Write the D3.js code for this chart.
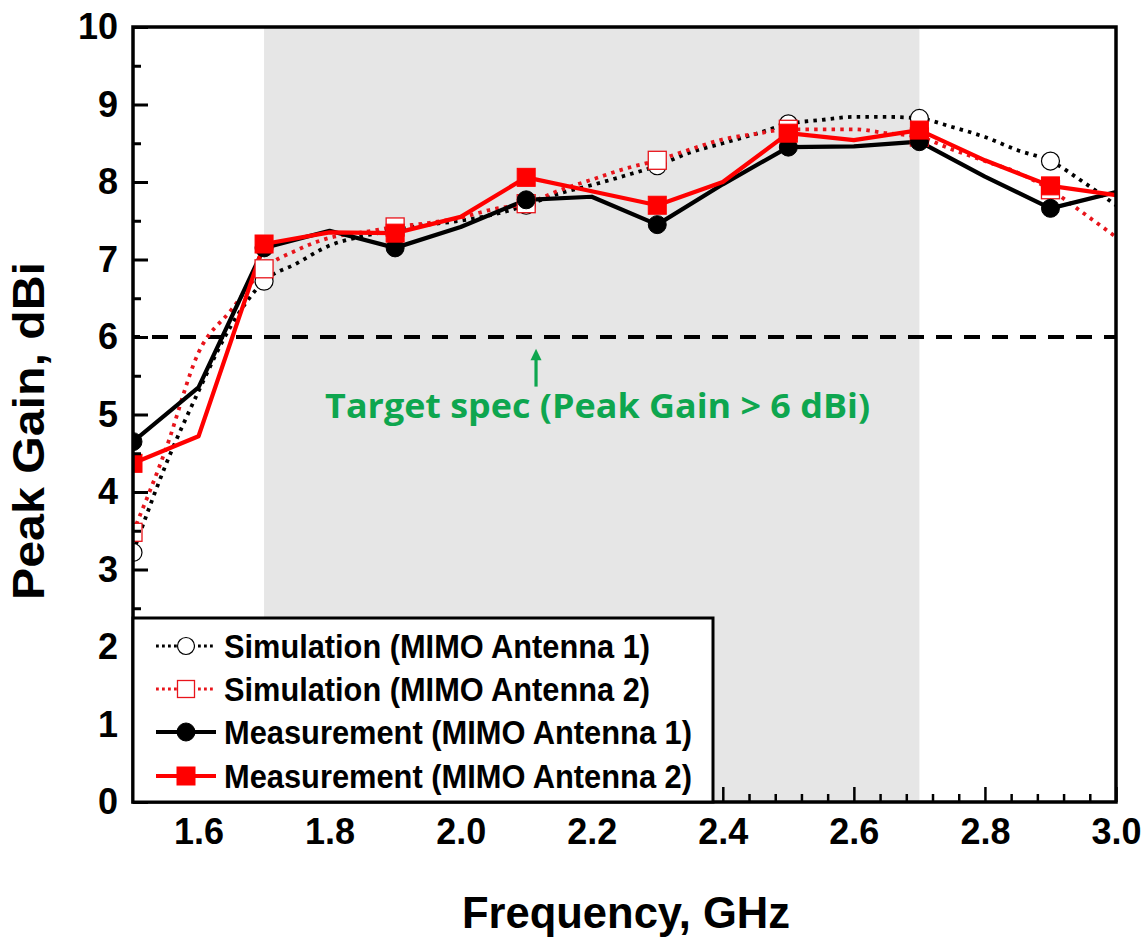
<!DOCTYPE html>
<html><head><meta charset="utf-8">
<script src="https://cdn.jsdelivr.net/npm/d3@7"></script>
<style>
body{margin:0;background:#fff}
svg{display:block}
text{font-family:"Liberation Sans",Arial,sans-serif;font-weight:bold;fill:#000}
</style>
</head><body>
<svg id="chart" width="1147" height="943"></svg>
<script>
// ---------- data ----------
const freqMeas = [1.5,1.6,1.7,1.8,1.9,2.0,2.1,2.2,2.3,2.4,2.5,2.6,2.7,2.8,2.9,3.0];
const measAnt1 = [4.65,5.35,7.15,7.37,7.15,7.42,7.77,7.81,7.45,7.97,8.45,8.46,8.52,8.07,7.66,7.87];
const measAnt2 = [4.37,4.72,7.20,7.35,7.34,7.55,8.06,7.88,7.70,8.00,8.63,8.54,8.67,8.28,7.95,7.83];

const freqSim = [1.5,1.55,1.6,1.65,1.7,1.75,1.8,1.85,1.9,1.95,2.0,2.05,2.1,2.15,2.2,2.25,2.3,2.35,2.4,2.45,2.5,2.55,2.6,2.65,2.7,2.75,2.8,2.85,2.9,2.95,3.0];
const simAnt1 = [3.22,4.35,5.30,6.15,6.72,6.95,7.18,7.30,7.38,7.45,7.50,7.58,7.70,7.85,7.96,8.08,8.21,8.38,8.50,8.62,8.75,8.80,8.84,8.84,8.82,8.71,8.58,8.41,8.27,8.00,7.70];
const simAnt2 = [3.48,4.55,5.80,6.35,6.88,7.12,7.28,7.35,7.42,7.47,7.54,7.65,7.72,7.89,8.03,8.17,8.28,8.42,8.55,8.62,8.68,8.68,8.68,8.63,8.58,8.42,8.27,8.12,7.90,7.60,7.29];

const markerFreqs = [1.5,1.7,1.9,2.1,2.3,2.5,2.7,2.9];
const xTickLabels = ["1.6","1.8","2.0","2.2","2.4","2.6","2.8","3.0"];
const yTickLabels = ["0","1","2","3","4","5","6","7","8","9","10"];
const bandRange = [1.7, 2.7];
const targetGain = 6;
const legendLabels = ["Simulation (MIMO Antenna 1)","Simulation (MIMO Antenna 2)","Measurement (MIMO Antenna 1)","Measurement (MIMO Antenna 2)"];

// ---------- layout ----------
const L=133, R=1116, T=27, B=802;
const svg = d3.select("#chart");
const x = d3.scaleLinear().domain([1.5,3.0]).range([L,R]);
const y = d3.scaleLinear().domain([0,10]).range([B,T]);

// shaded band
svg.append("rect")
  .attr("x", x(bandRange[0])).attr("y", T)
  .attr("width", x(bandRange[1]) - x(bandRange[0])).attr("height", B - T)
  .attr("fill", "#e6e6e6");

// target dashed line
svg.append("line")
  .attr("x1", x(1.5)).attr("x2", x(3.0))
  .attr("y1", y(targetGain)).attr("y2", y(targetGain))
  .attr("stroke", "#000").attr("stroke-width", 3.8)
  .attr("stroke-dasharray", "16,12").attr("stroke-dashoffset", 9);

// arrow + annotation
const green = "#0ea64f";
const ax = x(2.115);
svg.append("line").attr("x1", ax).attr("x2", ax)
  .attr("y1", y(5.36)).attr("y2", y(5.72))
  .attr("stroke", green).attr("stroke-width", 3.2);
svg.append("path")
  .attr("d", `M${ax},${y(5.85)} L${ax-5.5},${y(5.70)} L${ax+5.5},${y(5.70)} Z`)
  .attr("fill", green);
svg.append("text")
  .attr("x", x(2.209)).attr("y", y(4.95))
  .attr("text-anchor", "middle")
  .attr("textLength", 545).attr("lengthAdjust", "spacingAndGlyphs")
  .style("font-family", "'Open Sans','Noto Sans',sans-serif")
  .style("font-size", "34px").style("fill", green)
  .text("Target spec (Peak Gain > 6 dBi)");

// ---------- series ----------
svg.append("clipPath").attr("id","plotclip")
  .append("rect").attr("x",L).attr("y",T).attr("width",R-L).attr("height",B-T);

const lineGen = d3.line().x(d=>x(d[0])).y(d=>y(d[1]));
const smoothGen = d3.line().x(d=>x(d[0])).y(d=>y(d[1])).curve(d3.curveMonotoneX);

const series = [
  {freq: freqSim, vals: simAnt1, color:"#000", dotted:true, shape:"circle", filled:false},
  {freq: freqSim, vals: simAnt2, color:"#e8141b", dotted:true, shape:"square", filled:false},
  {freq: freqMeas, vals: measAnt1, color:"#000", dotted:false, shape:"circle", filled:true},
  {freq: freqMeas, vals: measAnt2, color:"#ff0000", dotted:false, shape:"square", filled:true}
];

const isMarker = f => markerFreqs.some(m => Math.abs(m - f) < 1e-9);

function drawMarker(g, shape, filled, color, cx, cy, size) {
  if (shape === "circle") {
    g.append("circle").attr("cx", cx).attr("cy", cy).attr("r", size/2)
      .attr("fill", filled ? color : "#fff")
      .attr("stroke", filled ? color : "#000").attr("stroke-width", filled ? 1 : 1.2);
  } else {
    g.append("rect").attr("x", cx - size/2).attr("y", cy - size/2)
      .attr("width", size).attr("height", size)
      .attr("fill", filled ? color : "#fff")
      .attr("stroke", color).attr("stroke-width", filled ? 1 : 1.3);
  }
}

const plotG = svg.append("g").attr("clip-path", "url(#plotclip)");
series.forEach(s => {
  const pts = s.freq.map((f,i)=>[f, s.vals[i]]);
  const p = plotG.append("path").datum(pts)
    .attr("fill","none").attr("stroke", s.color)
    .attr("d", s.dotted ? smoothGen : lineGen);
  if (s.dotted) {
    p.attr("stroke-width", 3.8).attr("stroke-dasharray", "3.5,5.2");
  } else {
    p.attr("stroke-width", 4.2).attr("stroke-linejoin","round");
  }
});
const markG = svg.append("g").attr("clip-path", "url(#plotclip)");
series.forEach(s => {
  s.freq.forEach((f,i) => {
    if (isMarker(f)) drawMarker(markG, s.shape, s.filled, s.color, x(f), y(s.vals[i]), 18);
  });
});

// ---------- axes ----------
const yMinor = [];
for (let i=0;i<yTickLabels.length-1;i++) yMinor.push(+yTickLabels[i] + 0.5);
const xMajor = xTickLabels.map(Number);
const xMinor = [1.52,1.56,1.64,1.68,1.72,1.76,1.84,1.88,1.92,1.96,2.04,2.08,2.12,2.16,2.24,2.28,2.32,2.36,2.44,2.48,2.52,2.56,2.64,2.68,2.72,2.76,2.84,2.88,2.92,2.96];

const axG = svg.append("g");
// y major
axG.append("g").attr("transform", `translate(${L},0)`)
  .call(d3.axisLeft(y).tickValues(yTickLabels.map(Number)).tickSize(-15).tickPadding(15).tickFormat((d,i)=>yTickLabels[i]))
  .call(g=>g.select(".domain").remove())
  .call(g=>g.selectAll("line").attr("stroke","#000").attr("stroke-width",3))
  .call(g=>g.selectAll("text").attr("fill","#000").style("font-size","36px").style("font-family","'Liberation Sans',Arial,sans-serif").style("font-weight","bold"));
// y minor
axG.append("g").attr("transform", `translate(${L},0)`)
  .call(d3.axisLeft(y).tickValues(yMinor).tickSize(-8).tickFormat(""))
  .call(g=>g.select(".domain").remove())
  .call(g=>g.selectAll("line").attr("stroke","#000").attr("stroke-width",3));
// x major
axG.append("g").attr("transform", `translate(0,${B})`)
  .call(d3.axisBottom(x).tickValues(xMajor).tickSize(-15).tickPadding(16).tickFormat((d,i)=>xTickLabels[i]))
  .call(g=>g.select(".domain").remove())
  .call(g=>g.selectAll("line").attr("stroke","#000").attr("stroke-width",2.5))
  .call(g=>g.selectAll("text").attr("fill","#000").style("font-size","36px").style("font-family","'Liberation Sans',Arial,sans-serif").style("font-weight","bold"));
// x minor
axG.append("g").attr("transform", `translate(0,${B})`)
  .call(d3.axisBottom(x).tickValues(xMinor).tickSize(-8).tickFormat(""))
  .call(g=>g.select(".domain").remove())
  .call(g=>g.selectAll("line").attr("stroke","#000").attr("stroke-width",2.5));

// frame
svg.append("rect").attr("x",L).attr("y",T).attr("width",R-L).attr("height",B-T)
  .attr("fill","none").attr("stroke","#000").attr("stroke-width",3.5);

// axis titles
svg.append("text")
  .attr("transform", `translate(44,431) rotate(-90)`)
  .attr("text-anchor","middle")
  .attr("textLength", 338).attr("lengthAdjust","spacingAndGlyphs")
  .style("font-size","44px")
  .text("Peak Gain, dBi");
svg.append("text")
  .attr("x", 626).attr("y", 928)
  .attr("text-anchor","middle")
  .attr("textLength", 328).attr("lengthAdjust","spacingAndGlyphs")
  .style("font-size","44px")
  .text("Frequency, GHz");

// ---------- legend ----------
const lg = svg.append("g");
lg.append("rect").attr("x", L).attr("y", 618).attr("width", 580).attr("height", B-618)
  .attr("fill","#fff").attr("stroke","#000").attr("stroke-width",3);
const rowY = [646, 689, 732, 776];
const textLens = [426, 426, 468, 468];
series.forEach((s,i) => {
  const cy = rowY[i];
  const ln = lg.append("line").attr("x1", 156).attr("x2", 216).attr("y1", cy).attr("y2", cy)
    .attr("stroke", s.color);
  if (s.dotted) ln.attr("stroke-width", 2.8).attr("stroke-dasharray","2.8,3.2");
  else ln.attr("stroke-width", 4);
  drawMarker(lg, s.shape, s.filled, s.color, 186, cy, s.filled ? 18 : 17);
  lg.append("text").attr("x", 224).attr("y", cy + 12)
    .attr("textLength", textLens[i]).attr("lengthAdjust","spacingAndGlyphs")
    .style("font-size","34px")
    .text(legendLabels[i]);
});
</script>
</body></html>
